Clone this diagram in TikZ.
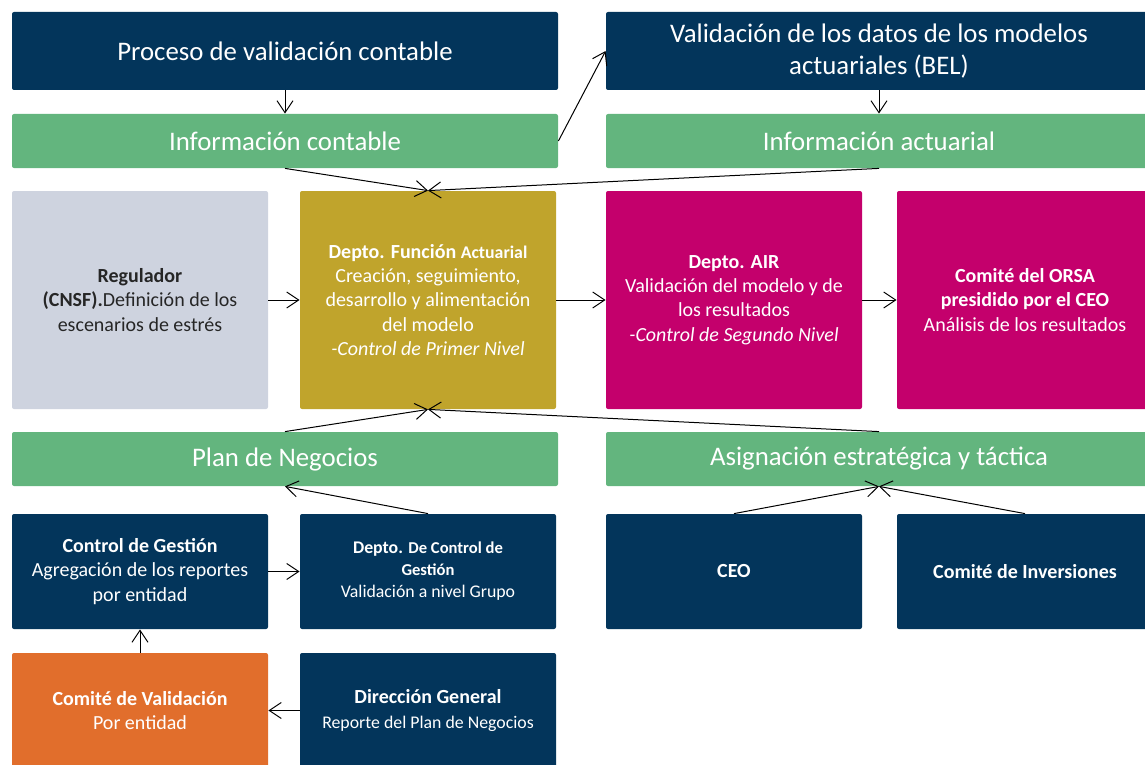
\documentclass[tikz,border=0pt]{standalone}
\usepackage{fontspec}
\setmainfont{Carlito}
\usetikzlibrary{arrows.meta, positioning, calc}

\definecolor{navyBlue}{RGB}{3,53,91}
\definecolor{barGreen}{RGB}{99,181,126}
\definecolor{regGrey}{RGB}{206,211,223}
\definecolor{actGold}{RGB}{192,164,44}
\definecolor{airPink}{RGB}{196,0,108}
\definecolor{valOrange}{RGB}{225,110,44}

\begin{document}
\begin{tikzpicture}[x=1pt, y=-1pt,
  box/.style={rounded corners=1pt, align=center, text=white, inner sep=0pt,
    font=\fontsize{10}{12.1}\selectfont},
  navybox/.style={box, fill=navyBlue},
  bar/.style={box, fill=barGreen, minimum width=273pt, minimum height=27pt,
    font=\fontsize{13.4}{16}\selectfont},
  block/.style={box, minimum width=128pt, minimum height=109pt},
  lowbox/.style={box, minimum width=128pt, minimum height=57.5pt},
  arr/.style={-{Straight Barb[length=6pt,width=8pt]}, line width=0.5pt}]
\useasboundingbox (0,0) rectangle (572.5,382.5);

% top row
\node[navybox, minimum width=273pt, minimum height=39pt,
  font=\fontsize{13.4}{16}\selectfont] (proc) at (142.5,25.5) {Proceso de validación contable};
\node[navybox, minimum width=273pt, minimum height=39pt,
  font=\fontsize{13.4}{16}\selectfont] (valid) at (439.5,25.5)
  {Validación de los datos de los modelos\\ actuariales (BEL)};

% information bars
\node[bar] (infc) at (142.5,70.5) {Información contable};
\node[bar] (infa) at (439.5,70.5) {Información actuarial};

% middle row
\node[block, fill=regGrey, text=black!85] (reg) at (70,150)
  {\textbf{Regulador}\\ \textbf{(CNSF).}Definición de los\\ escenarios de estrés};
\node[block, fill=actGold] (depto) at (214,150)
  {\textbf{Depto. Función} {\fontsize{8.9}{12.1}\selectfont\bfseries Actuarial}\\
   Creación, seguimiento,\\ desarrollo y alimentación\\ del modelo\\
   \textit{-Control de Primer Nivel}};
\node[block, fill=airPink] (air) at (367,150)
  {\textbf{Depto. AIR}\\ Validación del modelo y de\\ los resultados\\
   \textit{-Control de Segundo Nivel}};
\node[block, fill=airPink] (orsa) at (512.5,150)
  {\textbf{Comité del ORSA}\\ \textbf{presidido por el CEO}\\ Análisis de los resultados};

% lower bars
\node[bar] (plan) at (142.5,229.5) {Plan de Negocios};
\node[bar] (asig) at (439.5,229.5) {Asignación estratégica y táctica};

% bottom rows
\node[lowbox, fill=navyBlue] (cg) at (70,285.75)
  {\textbf{Control de Gestión}\\ Agregación de los reportes\\ por entidad};
\node[lowbox, fill=navyBlue, font=\fontsize{8.9}{11}\selectfont] (dcg) at (214,285.75)
  {\textbf{Depto.} {\fontsize{8.3}{11}\selectfont\bfseries De Control de}\\
   {\fontsize{8.3}{11}\selectfont\bfseries Gestión}\\ Validación a nivel Grupo};
\node[lowbox, fill=navyBlue] (ceo) at (367,285.75) {\textbf{CEO}};
\node[lowbox, fill=navyBlue] (ci) at (512.5,285.75) {\textbf{Comité de Inversiones}};
\node[lowbox, fill=valOrange] (cv) at (70,355.25)
  {\textbf{Comité de Validación}\\ Por entidad};
\node[lowbox, fill=navyBlue] (dg) at (214,355.25)
  {\textbf{Dirección General}\\ {\fontsize{8.9}{12.1}\selectfont Reporte del Plan de Negocios}};

% connectors
\draw[arr] (proc.south) -- (infc.north);
\draw[arr] (infc.east) -- (valid.west);
\draw[arr] (valid.south) -- (infa.north);
\draw[arr] (infc.south) -- (depto.north);
\draw[arr] (infa.south) -- (depto.north);
\draw[arr] (reg.east) -- (depto.west);
\draw[arr] (depto.east) -- (air.west);
\draw[arr] (air.east) -- (orsa.west);
\draw[arr] (plan.north) -- (depto.south);
\draw[arr] (asig.north) -- (depto.south);
\draw[arr] (dcg.north) -- (plan.south);
\draw[arr] (ceo.north) -- (asig.south);
\draw[arr] (ci.north) -- (asig.south);
\draw[arr] (cg.east) -- (dcg.west);
\draw[arr] (cv.north) -- (cg.south);
\draw[arr] (dg.west) -- (cv.east);
\end{tikzpicture}
\end{document}
